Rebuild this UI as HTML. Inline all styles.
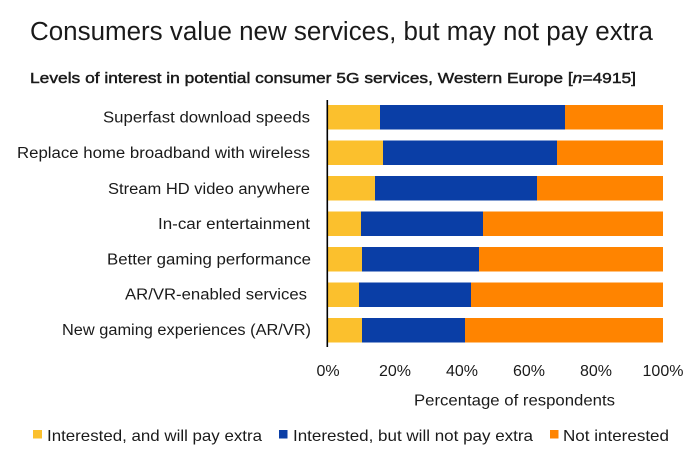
<!DOCTYPE html>
<html>
<head>
<meta charset="utf-8">
<style>
  html,body{margin:0;padding:0;background:#fff;}
  svg{display:block;}
  text{font-family:"Liberation Sans", Arial, sans-serif;fill:#1a1a1a;}
</style>
</head>
<body>
<svg width="700" height="461" viewBox="0 0 700 461" xmlns="http://www.w3.org/2000/svg">
  <rect x="0" y="0" width="700" height="461" fill="#fff"/>

  <!-- Title -->
  <text x="30" y="40" font-size="25.5" textLength="623" lengthAdjust="spacingAndGlyphs" fill="#111">Consumers value new services, but may not pay extra</text>
  <!-- Subtitle -->
  <text x="30" y="83" font-size="15" stroke="#1a1a1a" stroke-width="0.45" textLength="606" lengthAdjust="spacingAndGlyphs">Levels of interest in potential consumer 5G services, Western Europe [<tspan font-style="italic">n</tspan>=4915]</text>

  <!-- Category labels -->
  <g font-size="15.5">
    <text x="103" y="122.5" textLength="207" lengthAdjust="spacingAndGlyphs">Superfast download speeds</text>
    <text x="17" y="158" textLength="293" lengthAdjust="spacingAndGlyphs">Replace home broadband with wireless</text>
    <text x="108" y="194" textLength="202" lengthAdjust="spacingAndGlyphs">Stream HD video anywhere</text>
    <text x="158" y="229" textLength="152" lengthAdjust="spacingAndGlyphs">In-car entertainment</text>
    <text x="107" y="264.5" textLength="204" lengthAdjust="spacingAndGlyphs">Better gaming performance</text>
    <text x="125" y="299.5" textLength="182" lengthAdjust="spacingAndGlyphs">AR/VR-enabled services</text>
    <text x="62" y="335" textLength="249" lengthAdjust="spacingAndGlyphs">New gaming experiences (AR/VR)</text>
  </g>

  <!-- Bars -->
  <g>
    <!-- 1 -->
    <rect x="327" y="105" width="53" height="24.5" fill="#FBC02D"/>
    <rect x="380" y="105" width="185" height="24.5" fill="#0A3EA6"/>
    <rect x="565" y="105" width="98" height="24.5" fill="#FF8400"/>
    <!-- 2 -->
    <rect x="327" y="140.5" width="56" height="24.5" fill="#FBC02D"/>
    <rect x="383" y="140.5" width="174" height="24.5" fill="#0A3EA6"/>
    <rect x="557" y="140.5" width="106" height="24.5" fill="#FF8400"/>
    <!-- 3 -->
    <rect x="327" y="176" width="48" height="24.5" fill="#FBC02D"/>
    <rect x="375" y="176" width="162" height="24.5" fill="#0A3EA6"/>
    <rect x="537" y="176" width="126" height="24.5" fill="#FF8400"/>
    <!-- 4 -->
    <rect x="327" y="211.5" width="34" height="24.5" fill="#FBC02D"/>
    <rect x="361" y="211.5" width="122" height="24.5" fill="#0A3EA6"/>
    <rect x="483" y="211.5" width="180" height="24.5" fill="#FF8400"/>
    <!-- 5 -->
    <rect x="327" y="247" width="35" height="24.5" fill="#FBC02D"/>
    <rect x="362" y="247" width="117" height="24.5" fill="#0A3EA6"/>
    <rect x="479" y="247" width="184" height="24.5" fill="#FF8400"/>
    <!-- 6 -->
    <rect x="327" y="282.5" width="32" height="24.5" fill="#FBC02D"/>
    <rect x="359" y="282.5" width="112" height="24.5" fill="#0A3EA6"/>
    <rect x="471" y="282.5" width="192" height="24.5" fill="#FF8400"/>
    <!-- 7 -->
    <rect x="327" y="318" width="35" height="24.5" fill="#FBC02D"/>
    <rect x="362" y="318" width="103" height="24.5" fill="#0A3EA6"/>
    <rect x="465" y="318" width="198" height="24.5" fill="#FF8400"/>
  </g>

  <!-- Axis line -->
  <line x1="327.3" y1="100" x2="327.3" y2="347" stroke="#000" stroke-width="1.6"/>

  <!-- Tick labels -->
  <g font-size="16" text-anchor="middle">
    <text x="328" y="376">0%</text>
    <text x="395" y="376">20%</text>
    <text x="462" y="376">40%</text>
    <text x="529" y="376">60%</text>
    <text x="596" y="376">80%</text>
    <text x="663" y="376">100%</text>
  </g>

  <!-- Axis title -->
  <text x="414" y="405.5" font-size="16" textLength="201" lengthAdjust="spacingAndGlyphs">Percentage of respondents</text>

  <!-- Legend -->
  <rect x="33" y="430" width="9" height="8.5" fill="#FBC02D"/>
  <text x="47" y="441" font-size="16" textLength="215" lengthAdjust="spacingAndGlyphs">Interested, and will pay extra</text>
  <rect x="279" y="430" width="8.5" height="8.5" fill="#0A3EA6"/>
  <text x="293" y="441" font-size="16" textLength="240" lengthAdjust="spacingAndGlyphs">Interested, but will not pay extra</text>
  <rect x="550" y="430" width="8.5" height="8.5" fill="#FF8400"/>
  <text x="563" y="441" font-size="16" textLength="106" lengthAdjust="spacingAndGlyphs">Not interested</text>
</svg>
</body>
</html>
